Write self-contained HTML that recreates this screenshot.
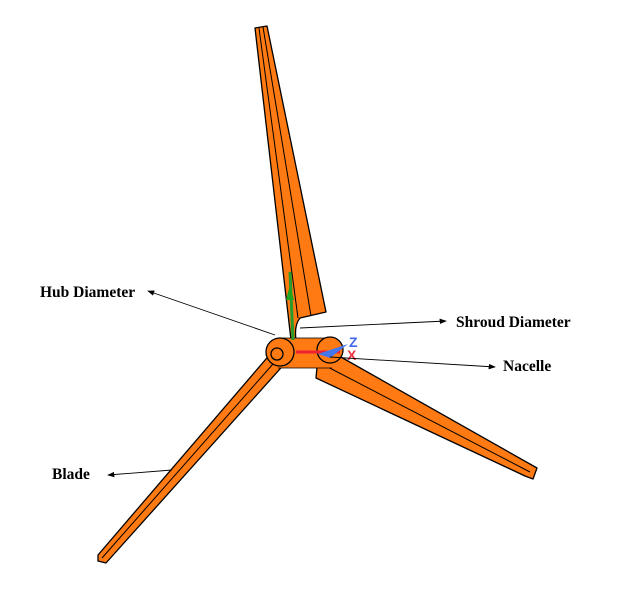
<!DOCTYPE html>
<html><head><style>body{margin:0;background:#fff}svg{display:block}text{font-family:"Liberation Serif",serif;font-weight:bold;font-size:15.5px}</style></head>
<body>
<svg width="617" height="591" viewBox="0 0 617 591" xmlns="http://www.w3.org/2000/svg">
<defs><marker id="a" markerWidth="8" markerHeight="8" refX="7" refY="4" orient="auto"><path d="M0,1 L8,4 L0,7z" fill="#000"/></marker></defs>
<g stroke="#000" stroke-width="1.3" fill="#ff7a12" stroke-linejoin="round">
<path d="M255,28 L267,26 L326,312 L300,318 Q294,325 296,340 L291,340 Z"/>
<path d="M259,28 L298,318 M263,27 L311,316" fill="none" stroke-width="1"/>
<path d="M318,356 L332,352 L537,468 L533,479 L525,476 L316,378 Z"/>
<path d="M322,364 L530,472" fill="none" stroke-width="1"/>
<path d="M272,352 L288,360 L106,563 L98,561 L98,555 Z"/>
<path d="M280,356 L102,558" fill="none" stroke-width="1"/>
<rect x="278" y="338" width="54" height="30" stroke="none"/>
<path d="M278,338 L332,338 M278,368 L332,368" fill="none" stroke-width="0.8"/>
<circle cx="280" cy="352" r="14"/>
<circle cx="277" cy="354" r="6"/>
<circle cx="330" cy="350" r="13"/>
</g>
<line x1="293" y1="340" x2="290" y2="272" stroke="#2a9a2a" stroke-width="3"/>
<path d="M286,300 L290,285 L294,300z" fill="#1fa51f"/>
<line x1="296" y1="352" x2="340" y2="352" stroke="#e23" stroke-width="3"/>
<path d="M318,354 L348,344 L330,358z" fill="#4477ee"/>
<text x="349" y="347" fill="#4466ee" style="font-family:'Liberation Sans',sans-serif;font-size:14px">Z</text>
<text x="347" y="360" fill="#ee3344" style="font-family:'Liberation Sans',sans-serif;font-size:14px">X</text>
<g stroke="#000" stroke-width="0.9" fill="none" marker-end="url(#a)">
<line x1="275" y1="335" x2="148" y2="291"/>
<line x1="300" y1="328" x2="446" y2="321"/>
<line x1="330" y1="357" x2="495" y2="367"/>
<line x1="172" y1="470" x2="108" y2="475"/>
</g>
<text x="40" y="297">Hub Diameter</text>
<text x="456" y="327">Shroud Diameter</text>
<text x="503" y="371">Nacelle</text>
<text x="52" y="479">Blade</text>
</svg>
</body></html>
